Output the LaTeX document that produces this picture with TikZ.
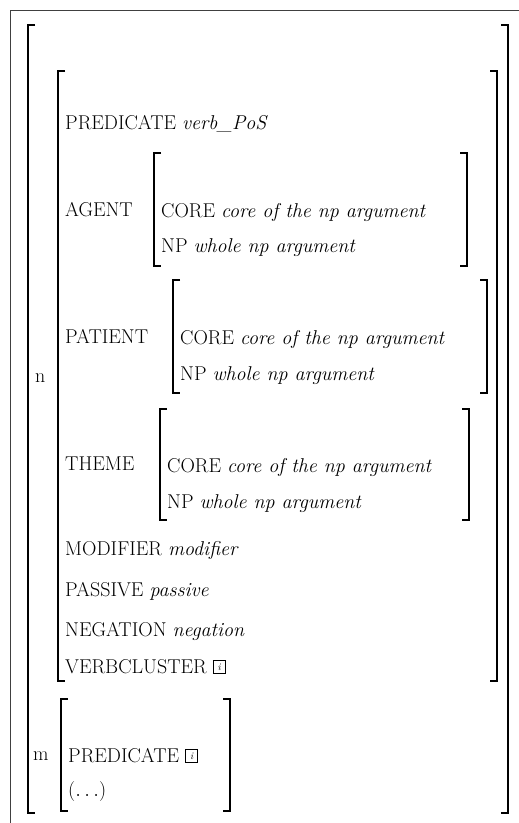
\documentclass[tikz,border=0pt]{standalone}
\tikzset{
  brk/.style={line width=1.3pt},
  attr/.style={anchor=base west, inner sep=0pt, font=\fontsize{20}{24}\selectfont},
}
\newcommand{\ibox}[1]{{\fontsize{10}{10}\selectfont\fboxsep=2.5pt\fboxrule=0.6pt\raisebox{2.5pt}{\fbox{\makebox[6.5pt]{\rule{0pt}{7.5pt}\itshape #1}}}}}
\begin{document}
\begin{tikzpicture}[x=1pt, y=-1pt]
\useasboundingbox (0,0) rectangle (519,823);
% frame
\draw[black!75, line width=0.8pt] (519,10) -- (10,10) -- (10,823);
% outer matrix
\draw[brk] (35,25) -- (28,25) -- (28,813) -- (35,813);
\draw[brk] (501,25) -- (508,25) -- (508,813) -- (501,813);
% n
\node[attr] (nlabel) at (35,382) {n};
\draw[brk] (65,71) -- (58,71) -- (58,681) -- (65,681);
\draw[brk] (490,71) -- (497,71) -- (497,681) -- (490,681);
\node[attr] (pred) at (65,129) {PREDICATE \textit{verb\_PoS}};
% agent
\node[attr] (agent) at (65,216) {AGENT};
\draw[brk] (161,153) -- (154,153) -- (154,266) -- (161,266);
\draw[brk] (460,153) -- (467,153) -- (467,266) -- (460,266);
\node[attr] (agcore) at (161,217) {CORE \textit{core of the np argument}};
\node[attr] (agnp) at (161,252) {NP \textit{whole np argument}};
% patient
\node[attr] (patient) at (65,343) {PATIENT};
\draw[brk] (180,280) -- (173,280) -- (173,393) -- (180,393);
\draw[brk] (480,280) -- (487,280) -- (487,393) -- (480,393);
\node[attr] (patcore) at (180,344) {CORE \textit{core of the np argument}};
\node[attr] (patnp) at (180,380) {NP \textit{whole np argument}};
% theme
\node[attr] (theme) at (65,470) {THEME};
\draw[brk] (167,409) -- (160,409) -- (160,520) -- (167,520);
\draw[brk] (462,409) -- (469,409) -- (469,520) -- (462,520);
\node[attr] (thcore) at (167,472) {CORE \textit{core of the np argument}};
\node[attr] (thnp) at (167,508) {NP \textit{whole np argument}};
% rest of n
\node[attr] (modif) at (65,555) {MODIFIER \textit{modifier}};
\node[attr] (passive) at (65,596) {PASSIVE \textit{passive}};
\node[attr] (negation) at (65,636) {NEGATION \textit{negation}};
\node[attr] (vcluster) at (65,673) {VERBCLUSTER \ibox{i}};
% m
\node[attr] (mlabel) at (33,760) {m};
\draw[brk] (68,699) -- (61,699) -- (61,811) -- (68,811);
\draw[brk] (223,699) -- (230,699) -- (230,811) -- (223,811);
\node[attr] (mpred) at (68,762) {PREDICATE \ibox{i}};
\node[attr] (mrest) at (68,796) {($\ldots$)};
\end{tikzpicture}
\end{document}
